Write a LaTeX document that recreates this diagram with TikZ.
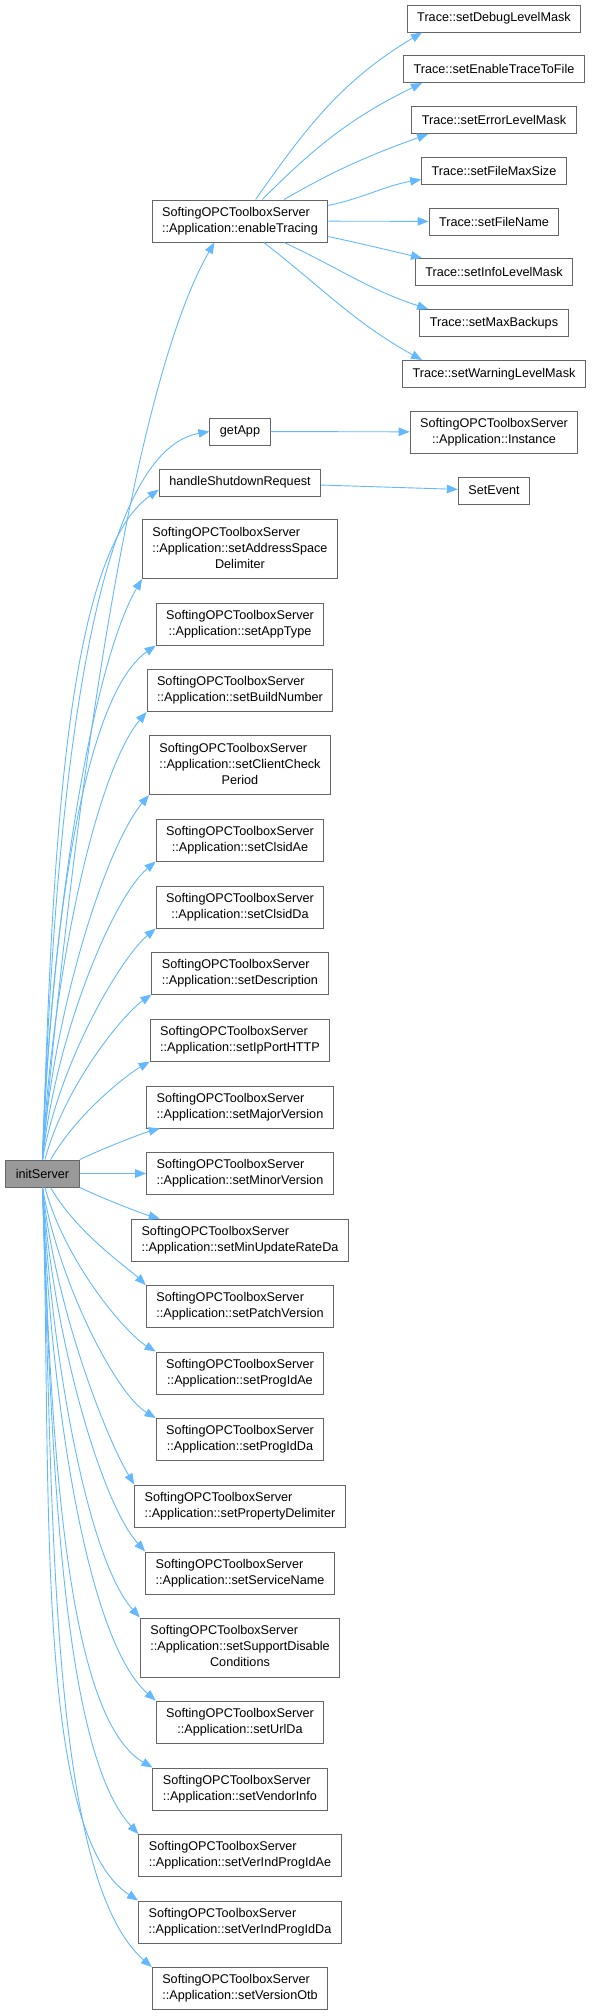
\documentclass[tikz,border=0pt]{standalone}
\usepackage{fontspec}
\setmainfont{Liberation Sans}
\usetikzlibrary{arrows.meta}

\definecolor{edgeblue}{HTML}{63B8FF}
\definecolor{boxline}{HTML}{666666}
\definecolor{curfill}{HTML}{999999}

% all lines but the last flush left, the last one centred
\newcommand{\fnlines}[2]{\begin{tabular}{@{}l@{}}#1\\\multicolumn{1}{@{}c@{}}{#2}\end{tabular}}

\tikzset{
  fnbox/.style={draw=boxline, fill=white, line width=1pt, inner xsep=10pt, inner ysep=2pt,
    font=\fontsize{12.65}{16}\selectfont},
  one/.style={fnbox, minimum height=27pt},
  two/.style={fnbox, minimum height=42pt},
  three/.style={fnbox, minimum height=59pt},
  call/.style={draw=edgeblue, line width=0.9pt, -{Triangle[length=11pt,width=8.5pt]}},
  fan/.style={call, in looseness=0.45},
}

\begin{document}
\begin{tikzpicture}[x=1pt, y=-1pt]
\useasboundingbox (0,0) rectangle (594,2016);

\node[one, fill=curfill] (init) at (42.5,1173.5) {initServer};

% called from initServer
\node[two] (en) at (240,221) {\fnlines{SoftingOPCToolboxServer}{::Application::enableTracing}};
\node[one] (ga) at (240,431.5) {getApp};
\node[one] (hsr) at (240,482.5) {handleShutdownRequest};
\node[three] (asd) at (240,549) {\fnlines{SoftingOPCToolboxServer\\::Application::setAddressSpace}{Delimiter}};
\node[two] (apt) at (240,624) {\fnlines{SoftingOPCToolboxServer}{::Application::setAppType}};
\node[two] (bn) at (240,690.5) {\fnlines{SoftingOPCToolboxServer}{::Application::setBuildNumber}};
\node[three] (ccp) at (240,765) {\fnlines{SoftingOPCToolboxServer\\::Application::setClientCheck}{Period}};
\node[two] (cae) at (240,840) {\fnlines{SoftingOPCToolboxServer}{::Application::setClsidAe}};
\node[two] (cda) at (240,907) {\fnlines{SoftingOPCToolboxServer}{::Application::setClsidDa}};
\node[two] (desc) at (240,973) {\fnlines{SoftingOPCToolboxServer}{::Application::setDescription}};
\node[two] (ipp) at (240,1040) {\fnlines{SoftingOPCToolboxServer}{::Application::setIpPortHTTP}};
\node[two] (majv) at (240,1107) {\fnlines{SoftingOPCToolboxServer}{::Application::setMajorVersion}};
\node[two] (minv) at (240,1173.5) {\fnlines{SoftingOPCToolboxServer}{::Application::setMinorVersion}};
\node[two] (mur) at (240,1240) {\fnlines{SoftingOPCToolboxServer}{::Application::setMinUpdateRateDa}};
\node[two] (pv) at (240,1306.5) {\fnlines{SoftingOPCToolboxServer}{::Application::setPatchVersion}};
\node[two] (pae) at (240,1373) {\fnlines{SoftingOPCToolboxServer}{::Application::setProgIdAe}};
\node[two] (pda) at (240,1439.5) {\fnlines{SoftingOPCToolboxServer}{::Application::setProgIdDa}};
\node[two] (pd) at (240,1506) {\fnlines{SoftingOPCToolboxServer}{::Application::setPropertyDelimiter}};
\node[two] (sn) at (240,1573) {\fnlines{SoftingOPCToolboxServer}{::Application::setServiceName}};
\node[three] (sdc) at (240,1647.5) {\fnlines{SoftingOPCToolboxServer\\::Application::setSupportDisable}{Conditions}};
\node[two] (url) at (240,1722) {\fnlines{SoftingOPCToolboxServer}{::Application::setUrlDa}};
\node[two] (vi) at (240,1789) {\fnlines{SoftingOPCToolboxServer}{::Application::setVendorInfo}};
\node[two] (vae) at (240,1855.5) {\fnlines{SoftingOPCToolboxServer}{::Application::setVerIndProgIdAe}};
\node[two] (vda) at (240,1922) {\fnlines{SoftingOPCToolboxServer}{::Application::setVerIndProgIdDa}};
\node[two] (vo) at (240,1988.5) {\fnlines{SoftingOPCToolboxServer}{::Application::setVersionOtb}};

% second level
\node[one] (t1) at (494,18.5) {Trace::setDebugLevelMask};
\node[one] (t2) at (494,69) {Trace::setEnableTraceToFile};
\node[one] (t3) at (494,120) {Trace::setErrorLevelMask};
\node[one] (t4) at (494,170.5) {Trace::setFileMaxSize};
\node[one] (t5) at (494,221.5) {Trace::setFileName};
\node[one] (t6) at (494,272) {Trace::setInfoLevelMask};
\node[one] (t7) at (494,323) {Trace::setMaxBackups};
\node[one] (t8) at (494,374) {Trace::setWarningLevelMask};
\node[two] (inst) at (494,432) {\fnlines{SoftingOPCToolboxServer}{::Application::Instance}};
\node[one] (se) at (494,490.5) {SetEvent};

% enableTracing -> Trace
\draw[call] (en.54) to[out=55,in=211] (t1.191);
\draw[call] (en.44) to[out=45,in=206] (t2.191);
\draw[call] (en.26) to[out=30,in=200] (t3.192);
\draw[call] (en.10) to[out=12,in=190] (t4.187);
\draw[call] (en) -- (t5);
\draw[call] (en.-10) to[out=-12,in=167] (t6.169);
\draw[call] (en.-26) to[out=-25,in=162] (t7.168);
\draw[call] (en.-42) to[out=-38,in=151] (t8.169);
\draw[call] (ga) -- (inst);
\draw[call] (hsr) -- (se);

% initServer -> callees
\draw[fan] (init.north) to[out=85,in=240] (en.220);
\draw[fan] (init.north) to[out=88,in=190] (ga.west);
\draw[fan] (init.north) to[out=88,in=215] (hsr.185);
\draw[fan] (init.north) to[out=88,in=240] (asd.south west);
\draw[fan] (init.north) to[out=88,in=215] (apt.south west);
\draw[fan] (init.north) to[out=87,in=230] (bn.south west);
\draw[fan] (init.north) to[out=86,in=230] (ccp.south west);
\draw[fan] (init.north) to[out=84,in=220] (cae.south west);
\draw[fan] (init.north) to[out=80,in=220] (cda.south west);
\draw[fan] (init.80) to[out=75,in=215] (desc.south west);
\draw[fan] (init.60) to[out=60,in=210] (ipp.south west);
\draw[fan] (init.north east) to[out=25,in=195] (majv.195);
\draw[fan] (init) -- (minv);
\draw[fan] (init.south east) to[out=-25,in=165] (mur.165);
\draw[fan] (init.-60) to[out=-60,in=136] (pv.north west);
\draw[fan] (init.-80) to[out=-75,in=149] (pae.north west);
\draw[fan] (init.south) to[out=-80,in=149] (pda.north west);
\draw[fan] (init.south) to[out=-84,in=121] (pd.north west);
\draw[fan] (init.south) to[out=-86,in=132] (sn.north west);
\draw[fan] (init.south) to[out=-87,in=132] (sdc.north west);
\draw[fan] (init.south) to[out=-88,in=139] (url.north west);
\draw[fan] (init.south) to[out=-88,in=150] (vi.north west);
\draw[fan] (init.south) to[out=-88,in=133] (vae.north west);
\draw[fan] (init.south) to[out=-88,in=147] (vda.north west);
\draw[fan] (init.south) to[out=-88,in=139] (vo.north west);
\end{tikzpicture}
\end{document}
